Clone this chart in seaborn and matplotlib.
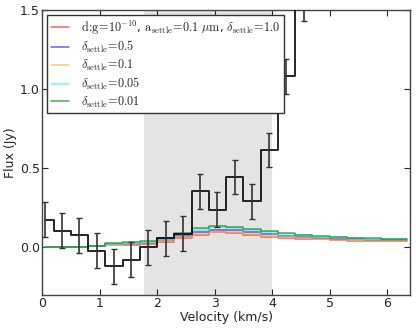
import numpy as np
import pandas as pd
import seaborn as sns
import matplotlib
matplotlib.use('Agg')
import matplotlib.pyplot as plt

# bin centres (km/s)
velocity = [0.05, 0.35, 0.65, 0.95, 1.25, 1.55, 1.85, 2.15, 2.45, 2.75, 3.05,
            3.35, 3.65, 3.95, 4.25, 4.55, 4.85, 5.15, 5.45, 5.75, 6.05, 6.35]

# observed spectrum (only the part that lies inside the plot range)
obs_flux = [0.175, 0.105, 0.076, -0.021, -0.118, -0.076, 0.002, 0.059, 0.087,
            0.354, 0.238, 0.445, 0.293, 0.616, 1.08, 1.54]
obs_err = [0.11] * len(obs_flux)

# models
model_d1 = [0.000, 0.000, 0.002, 0.007, 0.015, 0.017, 0.023, 0.034, 0.061, 0.082, 0.095,
            0.089, 0.077, 0.066, 0.061, 0.055, 0.051, 0.046, 0.044, 0.042, 0.041, 0.041]
model_d05 = [0.000, 0.000, 0.002, 0.009, 0.020, 0.024, 0.031, 0.045, 0.074, 0.099, 0.113,
             0.108, 0.095, 0.083, 0.075, 0.067, 0.061, 0.056, 0.052, 0.049, 0.047, 0.046]
model_d01 = [0.000, 0.000, 0.002, 0.008, 0.017, 0.019, 0.026, 0.038, 0.065, 0.088, 0.101,
             0.095, 0.083, 0.072, 0.066, 0.059, 0.054, 0.049, 0.047, 0.044, 0.043, 0.043]
model_d005 = [0.000, 0.001, 0.003, 0.011, 0.025, 0.029, 0.037, 0.054, 0.083, 0.112, 0.127,
              0.123, 0.109, 0.096, 0.085, 0.077, 0.069, 0.064, 0.058, 0.054, 0.051, 0.051]
model_d001 = [0.000, 0.001, 0.003, 0.012, 0.027, 0.032, 0.040, 0.059, 0.089, 0.120, 0.135,
              0.131, 0.117, 0.104, 0.091, 0.082, 0.074, 0.068, 0.061, 0.057, 0.054, 0.053]

labels = [r'$\rm d\!:\!g\!=\!10^{-10}$, $\rm a_{settle}\!=\!0.1\ \mu m$, $\delta_{\rm settle}\!=\!1.0$',
          r'$\delta_{\rm settle}\!=\!0.5$',
          r'$\delta_{\rm settle}\!=\!0.1$',
          r'$\delta_{\rm settle}\!=\!0.05$',
          r'$\delta_{\rm settle}\!=\!0.01$']
models = [model_d1, model_d05, model_d01, model_d005, model_d001]
colors = ['#ff2020', '#2020ff', '#ffb040', '#20ffff', '#008800']

shade = (1.78, 4.0)

sns.set_style('ticks', {'xtick.direction': 'in', 'ytick.direction': 'in'})
plt.rcParams['mathtext.fontset'] = 'cm'
plt.rcParams['font.family'] = ['DejaVu Sans']

fig = plt.figure(figsize=(4.16, 3.28), dpi=100)
ax = fig.add_axes([0.101, 0.1006, 0.885, 0.869])

ax.axvspan(shade[0], shade[1], color='#e4e4e4', zorder=0, lw=0)

for vals, lab, col in zip(models, labels, colors):
    df = pd.DataFrame({'v': velocity, 'f': vals})
    sns.lineplot(data=df, x='v', y='f', ax=ax, color=col, alpha=0.7, lw=1.1,
                 drawstyle='steps-mid', label=lab)

obs = pd.DataFrame({'v': velocity[:len(obs_flux)], 'f': obs_flux, 'e': obs_err})
sns.lineplot(data=obs, x='v', y='f', ax=ax, color='black', lw=1.4,
             drawstyle='steps-mid', alpha=0.85, zorder=5)
ax.errorbar(obs['v'], obs['f'], yerr=obs['e'], fmt='none', ecolor='#333333',
            elinewidth=1.2, capsize=2.5, zorder=5)

ax.set_xlim(0, 6.4)
ax.set_ylim(-0.3, 1.5)
ax.set_xticks([0, 1, 2, 3, 4, 5, 6])
ax.set_yticks([0.0, 0.5, 1.0, 1.5])
ax.set_yticklabels(['0.0', '0.5', '1.0', '1.5'])
ax.tick_params(top=True, right=True, labelsize=9, length=4, width=0.8, pad=1.5)
for s in ax.spines.values():
    s.set_color('#444444')
    s.set_linewidth(1.0)
ax.set_xlabel('Velocity (km/s)', fontsize=9, labelpad=1)
ax.set_ylabel('Flux (Jy)', fontsize=9, labelpad=2)

leg = ax.legend(loc='upper left', fontsize=8.8, frameon=True, fancybox=False,
                handlelength=1.5, handletextpad=1.0, borderaxespad=0.4,
                labelspacing=0.22, borderpad=0.3)
leg.get_frame().set_edgecolor('#333333')
leg.get_frame().set_linewidth(1.0)
leg.get_frame().set_alpha(1.0)

fig.savefig('out.png', dpi=100)
